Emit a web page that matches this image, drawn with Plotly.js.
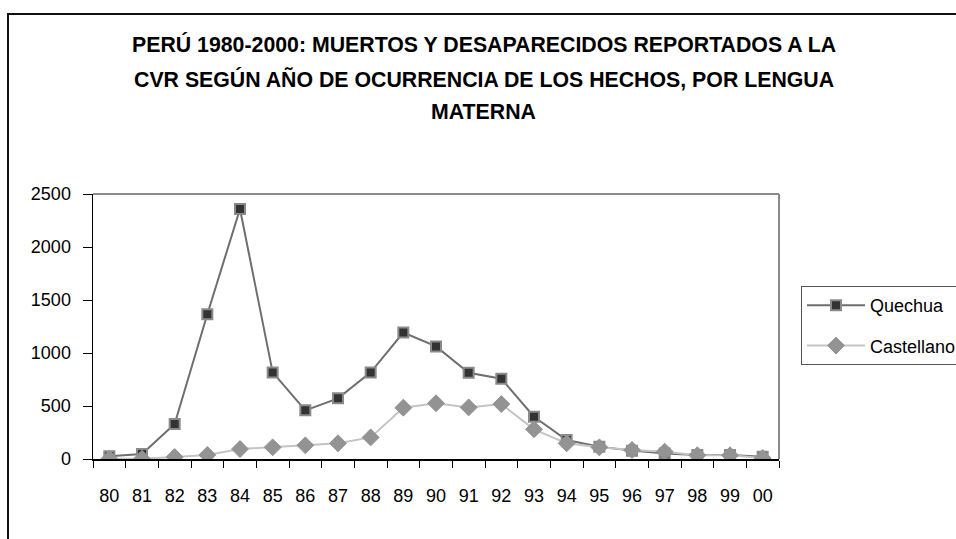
<!DOCTYPE html>
<html>
<head>
<meta charset="utf-8">
<script src="https://cdn.plot.ly/plotly-3.0.1.min.js"></script>
<style>
  body { margin: 0; background: #fff; }
  #wrap { position: relative; width: 956px; height: 539px; overflow: hidden; }
  #plot { width: 956px; height: 539px; }
  /* marco exterior del gráfico (como en la hoja de cálculo original) */
  #frame { position: absolute; left: 7px; top: 13px; width: 1000px; height: 600px;
           border-left: 2.5px solid #111; border-top: 2.5px solid #111;
           pointer-events: none; }
</style>
</head>
<body>
<div id="wrap">
  <div id="plot"></div>
  <div id="frame"></div>
</div>
<script>
// años de ocurrencia (1980-2000)
var years = ['80', '81', '82', '83', '84', '85', '86', '87', '88', '89', '90',
             '91', '92', '93', '94', '95', '96', '97', '98', '99', '00'];

// muertos y desaparecidos, por lengua materna
var quechua =    [25, 47, 330, 1366, 2359, 817, 459, 572, 817, 1193, 1062,
                  813, 757, 399, 179, 116, 79, 53, 38, 38, 22];
var castellano = [2, 2, 19, 38, 94, 110, 129, 148, 204, 484, 526,
                  487, 518, 280, 148, 110, 85, 69, 35, 35, 9];

var titleLines = ['PERÚ 1980-2000: MUERTOS Y DESAPARECIDOS REPORTADOS A LA',
                  'CVR SEGÚN AÑO DE OCURRENCIA DE LOS HECHOS, POR LENGUA',
                  'MATERNA'];

var font = '"Liberation Sans", Arial, sans-serif';

function plotMe() {
    var data = [
        {
            x: years, y: quechua, name: 'Quechua',
            legendgroup: 'q',
            type: 'scatter', mode: 'lines+markers',
            line: {color: '#6e6e6e', width: 2},
            marker: {symbol: 'square', size: 10, color: '#333333',
                     line: {color: '#8a8a8a', width: 2}}
        },
        {
            x: years, y: castellano, name: 'Castellano',
            legendgroup: 'c',
            type: 'scatter', mode: 'lines+markers',
            line: {color: '#c4c4c4', width: 2},
            marker: {symbol: 'diamond', size: 13, color: '#939393',
                     line: {color: '#939393', width: 1}}
        }
    ];

    // título en tres líneas (interlineado como en el original)
    var titleY = [45, 79, 112];
    var annotations = titleLines.map(function(t, i) {
        return {
            text: '<b>' + t + '</b>',
            xref: 'paper', yref: 'paper',
            x: (483 - 93) / 685, xanchor: 'center',
            y: (459 - titleY[i]) / 265, yanchor: 'middle',
            showarrow: false,
            font: {family: font, size: 21.3, color: '#000'}
        };
    });

    var layout = {
        width: 956,
        height: 539,
        margin: {l: 93, r: 177, t: 194, b: 80},
        paper_bgcolor: '#ffffff',
        plot_bgcolor: '#ffffff',
        font: {family: font, size: 18, color: '#000'},
        annotations: annotations,
        xaxis: {
            type: 'category',
            range: [-0.5, 20.5],
            showgrid: false, zeroline: false,
            showline: true, linecolor: '#000', linewidth: 1.5,
            ticks: 'outside', tickson: 'boundaries', ticklen: 7,
            tickcolor: '#000', tickwidth: 1,
            tickangle: 0,
            tickfont: {family: font, size: 18},
            ticklabelstandoff: 20,
            fixedrange: true
        },
        yaxis: {
            range: [0, 2500], dtick: 500,
            showgrid: false, zeroline: false,
            showline: true, linecolor: '#000', linewidth: 1.5,
            ticks: 'outside', ticklen: 9, tickcolor: '#000', tickwidth: 1,
            tickfont: {family: font, size: 18},
            ticklabelstandoff: 8,
            fixedrange: true
        },
        legend: {
            xref: 'container', yref: 'container',
            x: 801 / 956, xanchor: 'left',
            y: 1 - 286 / 539, yanchor: 'top',
            bgcolor: '#fff', bordercolor: '#555', borderwidth: 1,
            font: {family: font, size: 18},
            itemwidth: 58,
            traceorder: 'grouped',
            tracegroupgap: 14
        },
        shapes: [
            // marco gris del área de trazado (arriba y derecha)
            {type: 'line', xref: 'paper', yref: 'paper', x0: 0, x1: 1, y0: 1, y1: 1,
             line: {color: '#8a8a8a', width: 2}},
            {type: 'line', xref: 'paper', yref: 'paper', x0: 1, x1: 1, y0: 0, y1: 1,
             line: {color: '#8a8a8a', width: 2}}
        ],
        showlegend: true
    };

    Plotly.newPlot('plot', data, layout, {displayModeBar: false, staticPlot: true});
}

plotMe();
</script>
</body>
</html>
